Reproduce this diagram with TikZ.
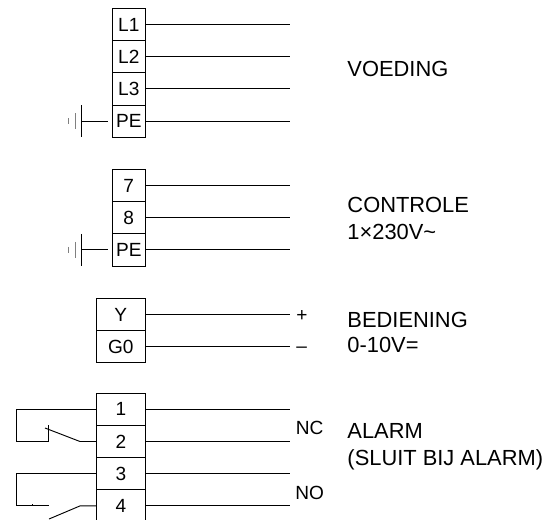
\documentclass[tikz,border=0pt]{standalone}
\usepackage{fontspec}
\setmainfont{Liberation Sans}
\tikzset{
    klem/.style={draw,inner sep=0pt,minimum width=24.4pt,minimum height=24.2pt,font=\fontsize{14.3}{16}\selectfont},
    klembreed/.style={klem,minimum width=36.6pt},
    tekst/.style={anchor=base west,inner sep=0pt,font=\fontsize{16.4}{18}\selectfont},
    tekstklein/.style={anchor=base west,inner sep=0pt,font=\fontsize{14.3}{16}\selectfont}
}

\begin{document}
\begin{tikzpicture}[x=0.75pt,y=-0.75pt,line width=0.7pt]
                \useasboundingbox (0,0) rectangle (555,519);
                
                % Voeding
                \node[klem] (l1) at (128.75,24.5) {L1};
                \node[klem] (l2) at (128.75,56.7) {L2};
                \node[klem] (l3) at (128.75,88.9) {L3};
                \node[klem] (pea) at (128.75,121.1) {PE};
                \coordinate (l1e) at (290,24.5);
                \coordinate (l2e) at (290,56.7);
                \coordinate (l3e) at (290,88.9);
                \coordinate (peae) at (290,121.1);
                \draw (l1) -- (l1e);
                \draw (l2) -- (l2e);
                \draw (l3) -- (l3e);
                \draw (pea) -- (peae);
                
                % Aarde
                \coordinate (gnda) at (81.7,121.1);
                \draw (gnda) -- (107.7,121.1);
                \draw (gnda) ++(0,-16) -- ++(0,32);
                \draw[gray] (gnda) ++(-6.7,-8) -- ++(0,16);
                \draw[gray] (gnda) ++(-13,-3) -- ++(0,6);
                
                % Controle
                \node[klem] (k7) at (128.75,185.5) {7};
                \node[klem] (k8) at (128.75,217.7) {8};
                \node[klem] (peb) at (128.75,249.9) {PE};
                \coordinate (k7e) at (290,185.5);
                \coordinate (k8e) at (290,217.7);
                \coordinate (pebe) at (290,249.9);
                \draw (k7) -- (k7e);
                \draw (k8) -- (k8e);
                \draw (peb) -- (pebe);
                
                \coordinate (gndb) at (81.7,249.9);
                \draw (gndb) -- (107.7,249.9);
                \draw (gndb) ++(0,-16) -- ++(0,32);
                \draw[gray] (gndb) ++(-6.7,-8) -- ++(0,16);
                \draw[gray] (gndb) ++(-13,-3) -- ++(0,6);
                
                % Bediening
                \node[klembreed] (y) at (120.75,314.5) {Y};
                \node[klembreed] (g0) at (120.75,346.7) {G0};
                \coordinate (ye) at (290,314.5);
                \coordinate (g0e) at (290,346.7);
                \draw (y) -- (ye);
                \draw (g0) -- (g0e);
                
                % Alarm
                \node[klembreed] (a1) at (121,409.3) {1};
                \node[klembreed] (a2) at (121,441.5) {2};
                \node[klembreed] (a3) at (121,473.7) {3};
                \node[klembreed] (a4) at (121,505.9) {4};
                \coordinate (a1e) at (290,409.3);
                \coordinate (a2e) at (290,441.5);
                \coordinate (a3e) at (290,473.7);
                \coordinate (a4e) at (290,505.9);
                \draw (a1) -- (a1e);
                \draw (a2) -- (a2e);
                \draw (a3) -- (a3e);
                \draw (a4) -- (a4e);
                
                % Contacten
                \coordinate (nch) at (48.5,441.5);
                \coordinate (ncs) at (80,441.5);
                \coordinate (noh) at (48.5,505.9);
                \coordinate (nos) at (80,505.9);
                \draw (a1) -- (16,409.3) -- (16,441.5) -- (nch) -- (48.5,425);
                \draw (45,428) -- (ncs) -- (a2);
                \draw (a3) -- (16,473.7) -- (16,505.9) -- (noh);
                \draw (32,504) -- (32,505.9);
                \draw (49,519) -- (nos) -- (a4);
                
                % Labels
                \node[tekst] (voeding) at (347,76.7) {VOEDING};
                \node[tekst] (controle) at (347,212) {CONTROLE};
                \node[tekst] (volt) at (347,239) {1×230V\char"007E};
                \node[tekstklein] (plus) at (296,321) {+};
                \node[tekstklein] (min) at (296,352.5) {–};
                \node[tekst] (bediening) at (347,327) {BEDIENING};
                \node[tekst] (range) at (347,352.7) {0-10V=};
                \node[tekstklein] (nc) at (295.5,434.3) {NC};
                \node[tekstklein] (no) at (295,499) {NO};
                \node[tekst] (alarm) at (347,438.7) {ALARM};
                \node[tekst] (sluit) at (347,465) {(SLUIT BIJ ALARM)};
            \end{tikzpicture}
\end{document}
